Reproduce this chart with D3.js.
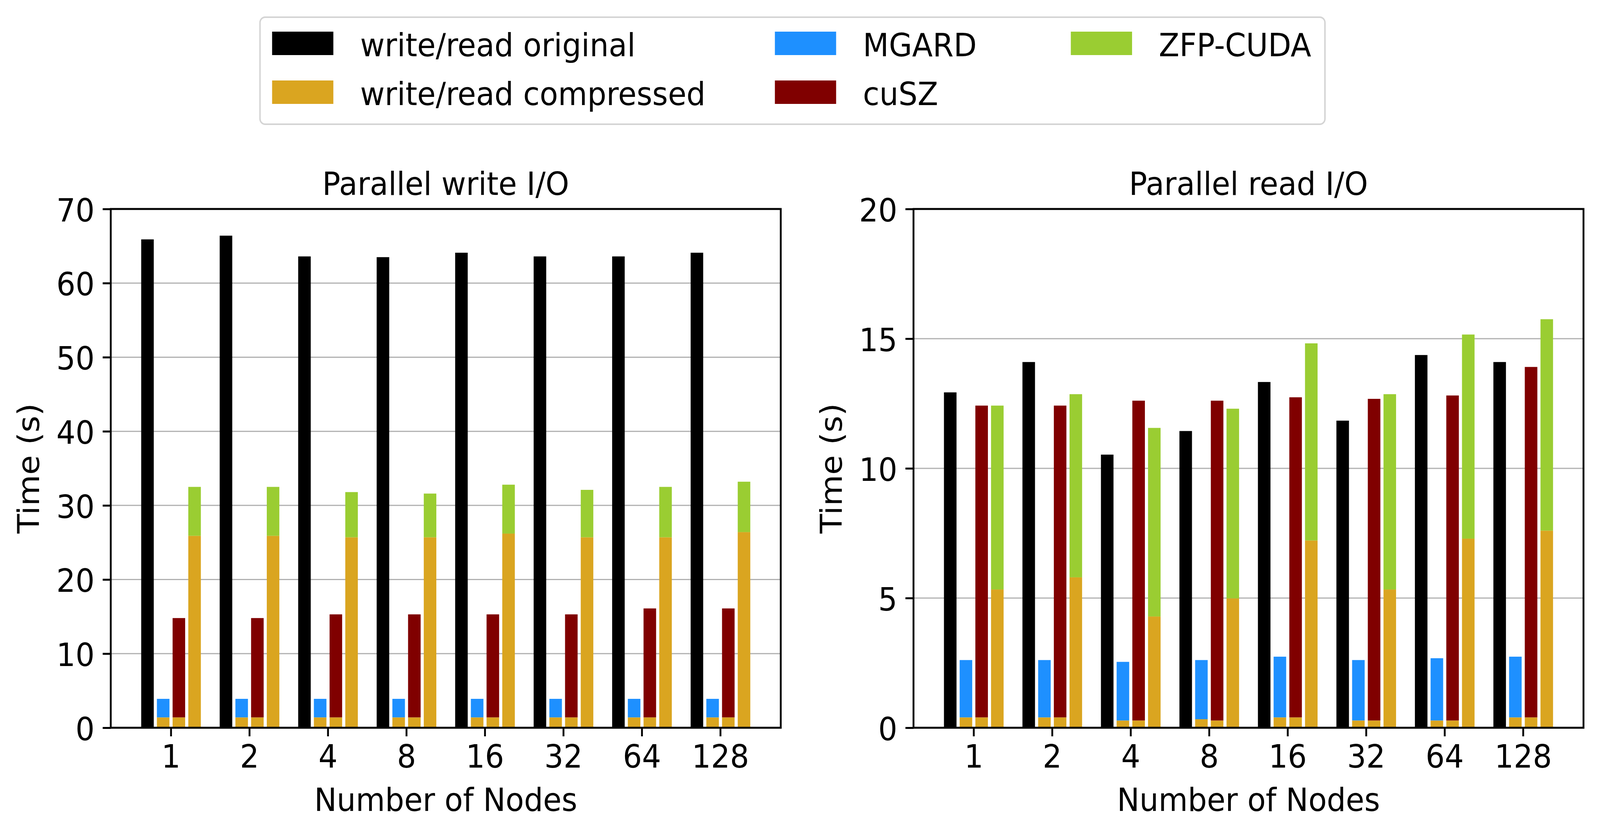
<!DOCTYPE html>
<html>
<head>
<meta charset="utf-8">
<script src="https://cdn.jsdelivr.net/npm/d3@7"></script>
<style>
  html, body { margin: 0; padding: 0; background: #fff; overflow: hidden; }
  svg { display: block; width: 100vw; height: 100vh; }
</style>
</head>
<body>
<svg id="chart"></svg>
<script>
const nodes = ["1", "2", "4", "8", "16", "32", "64", "128"];

// write panel (seconds)
const writeOriginal = [65.9, 66.4, 63.6, 63.5, 64.1, 63.6, 63.6, 64.1];
const writeCompressedMGARD = [1.4, 1.4, 1.4, 1.4, 1.4, 1.4, 1.4, 1.4];
const writeMGARD = [2.5, 2.5, 2.5, 2.5, 2.5, 2.5, 2.5, 2.5];
const writeCompressedCuSZ = [1.4, 1.4, 1.4, 1.4, 1.4, 1.4, 1.4, 1.4];
const writeCuSZ = [13.4, 13.4, 13.9, 13.9, 13.9, 13.9, 14.7, 14.7];
const writeCompressedZFP = [25.9, 25.9, 25.7, 25.7, 26.2, 25.7, 25.7, 26.4];
const writeZFP = [6.6, 6.6, 6.1, 5.9, 6.6, 6.4, 6.8, 6.8];

// read panel (seconds)
const readOriginal = [12.93, 14.1, 10.53, 11.44, 13.33, 11.84, 14.37, 14.1];
const readCompressedMGARD = [0.4, 0.4, 0.28, 0.33, 0.4, 0.28, 0.28, 0.4];
const readMGARD = [2.21, 2.21, 2.26, 2.28, 2.34, 2.33, 2.4, 2.34];
const readCompressedCuSZ = [0.4, 0.4, 0.28, 0.28, 0.4, 0.28, 0.28, 0.4];
const readCuSZ = [12.02, 12.02, 12.33, 12.33, 12.34, 12.4, 12.53, 13.51];
const readCompressedZFP = [5.33, 5.8, 4.29, 4.99, 7.22, 5.33, 7.29, 7.6];
const readZFP = [7.09, 7.06, 7.27, 7.31, 7.6, 7.53, 7.87, 8.15];

const legendLabels = ["write/read original", "write/read compressed", "MGARD", "cuSZ", "ZFP-CUDA"];
const legendKeys = ["original", "compressed", "mgard", "cusz", "zfp"];

const colors = {
    original: "#000000",
    compressed: "#DAA520",
    mgard: "#1E90FF",
    cusz: "#800000",
    zfp: "#9ACD32"
};

const width = 4363;
const height = 2135;
const fontSize = 82;
const font = "DejaVu Sans, Liberation Sans, sans-serif";
const top_ = 535;
const bottom = 1863;
const axW = 1827;

const panels = [
    {
        title: "Parallel write I/O",
        left: 302,
        yMax: 70,
        yStep: 10,
        bars: [
            [["original", writeOriginal]],
            [["compressed", writeCompressedMGARD], ["mgard", writeMGARD]],
            [["compressed", writeCompressedCuSZ], ["cusz", writeCuSZ]],
            [["compressed", writeCompressedZFP], ["zfp", writeZFP]]
        ]
    },
    {
        title: "Parallel read I/O",
        left: 2491,
        yMax: 20,
        yStep: 5,
        bars: [
            [["original", readOriginal]],
            [["compressed", readCompressedMGARD], ["mgard", readMGARD]],
            [["compressed", readCompressedCuSZ], ["cusz", readCuSZ]],
            [["compressed", readCompressedZFP], ["zfp", readZFP]]
        ]
    }
];

// stretch to the whole window so the frame matches the 4363x2135 shot
const svg = d3.select("#chart")
    .attr("viewBox", [0, 0, width, height])
    .attr("preserveAspectRatio", "none")
    .attr("font-family", font);

panels.forEach(p => {
    const right = p.left + axW;

    const x = d3.scaleBand()
        .domain(nodes)
        .range([p.left, right])
        .paddingInner(0)
        .paddingOuter(0.268);

    const xSub = d3.scaleBand()
        .domain(d3.range(p.bars.length))
        .range([x.step() * 0.12, x.step() * 0.88])
        .paddingInner(0.2)
        .paddingOuter(0);

    const y = d3.scaleLinear()
        .domain([0, p.yMax])
        .range([bottom, top_]);

    const yTicks = d3.range(0, p.yMax + 1, p.yStep);

    const g = svg.append("g");

    // grid below bars
    g.append("g")
        .selectAll("line")
        .data(yTicks)
        .join("line")
        .attr("x1", p.left)
        .attr("x2", right)
        .attr("y1", d => y(d))
        .attr("y2", d => y(d))
        .attr("stroke", "#b0b0b0")
        .attr("stroke-width", 3);

    // stacked segments for each bar
    const segs = [];
    nodes.forEach((n, i) => {
        p.bars.forEach((bar, j) => {
            let acc = 0;
            bar.forEach(([key, vals]) => {
                segs.push({ node: n, bar: j, key, y0: acc, y1: acc + vals[i] });
                acc += vals[i];
            });
        });
    });

    g.append("g")
        .selectAll("rect")
        .data(segs)
        .join("rect")
        .attr("x", d => x(d.node) + xSub(d.bar))
        .attr("width", xSub.bandwidth())
        .attr("y", d => y(d.y1))
        .attr("height", d => y(d.y0) - y(d.y1))
        .attr("fill", d => colors[d.key]);

    const yAxis = g.append("g")
        .attr("transform", `translate(${p.left},0)`)
        .call(d3.axisLeft(y).tickValues(yTicks).tickSize(22).tickPadding(22))
        .attr("font-size", fontSize)
        .attr("font-family", font);
    yAxis.select(".domain").remove();
    yAxis.selectAll(".tick line").attr("stroke-width", 5);
    yAxis.selectAll(".tick text").attr("fill", "#000").attr("dy", "0.38em");

    const xAxis = g.append("g")
        .attr("transform", `translate(0,${bottom})`)
        .call(d3.axisBottom(x).tickSize(22).tickPadding(22))
        .attr("font-size", fontSize)
        .attr("font-family", font);
    xAxis.select(".domain").remove();
    xAxis.selectAll(".tick line").attr("stroke-width", 5);
    xAxis.selectAll(".tick text").attr("fill", "#000");

    // frame
    g.append("rect")
        .attr("x", p.left)
        .attr("y", top_)
        .attr("width", axW)
        .attr("height", bottom - top_)
        .attr("fill", "none")
        .attr("stroke", "#000")
        .attr("stroke-width", 5);

    g.append("text")
        .attr("x", p.left + axW / 2)
        .attr("y", 499)
        .attr("text-anchor", "middle")
        .attr("font-size", fontSize)
        .text(p.title);

    g.append("text")
        .attr("x", p.left + axW / 2)
        .attr("y", 2076)
        .attr("text-anchor", "middle")
        .attr("font-size", fontSize)
        .text("Number of Nodes");

    g.append("text")
        .attr("transform", `translate(${p.left - 195},${(top_ + bottom) / 2}) rotate(-90)`)
        .attr("text-anchor", "middle")
        .attr("font-size", fontSize)
        .text("Time (s)");
});

// legend
const legend = svg.append("g");

legend.append("rect")
    .attr("x", 709)
    .attr("y", 44)
    .attr("width", 3613 - 709)
    .attr("height", 318 - 44)
    .attr("rx", 14)
    .attr("fill", "#fff")
    .attr("stroke", "#d4d4d4")
    .attr("stroke-width", 4);

const colX = [742, 2113, 2920];
const rowY = [81, 206];

const item = legend.selectAll("g.item")
    .data(legendKeys.map((k, i) => ({ key: k, label: legendLabels[i], col: Math.floor(i / 2), row: i % 2 })))
    .join("g")
    .attr("class", "item")
    .attr("transform", d => `translate(${colX[d.col]},${rowY[d.row]})`);

item.append("rect")
    .attr("width", 167)
    .attr("height", 60)
    .attr("fill", d => colors[d.key]);

item.append("text")
    .attr("x", 240)
    .attr("y", 63)
    .attr("font-size", fontSize)
    .text(d => d.label);
</script>
</body>
</html>
